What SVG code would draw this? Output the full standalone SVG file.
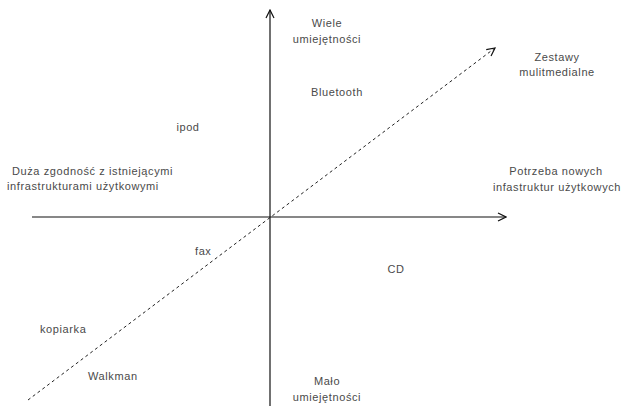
<svg xmlns="http://www.w3.org/2000/svg" width="627" height="406" viewBox="0 0 627 406">
<style>
  text { font-family: "Liberation Sans", Arial, sans-serif; font-size: 11px; letter-spacing: 0.6px; fill: #4a4a4a; }
  .c { text-anchor: middle; }
  .axis { stroke: #111; stroke-width: 1.2; fill: none; }
  .diag { stroke: #222; stroke-width: 1; stroke-dasharray: 3 3; fill: none; }
</style>
<defs>
  <marker id="arr" markerWidth="10" markerHeight="10" refX="9" refY="5" orient="auto" markerUnits="userSpaceOnUse">
    <path d="M1,1 L9,5 L1,9" fill="none" stroke="#111" stroke-width="1.2"/>
  </marker>
</defs>
<rect width="627" height="406" fill="#fff"/>
<g id="connectors">
  <line class="axis" x1="32" y1="217" x2="506" y2="217" marker-end="url(#arr)"/>
  <line class="axis" x1="270" y1="406" x2="270" y2="10" marker-end="url(#arr)"/>
  <line class="diag" x1="28" y1="400" x2="495" y2="48" marker-end="url(#arr)"/>
</g>
<g id="wiele"><text class="c" x="327" y="27">Wiele</text><text class="c" x="327" y="43">umiejętności</text></g>
<g id="zestawy"><text class="c" x="557" y="61">Zestawy</text><text class="c" x="557" y="76">mulitmedialne</text></g>
<g id="bluetooth"><text class="c" x="337" y="96">Bluetooth</text></g>
<g id="ipod"><text class="c" x="188" y="131">ipod</text></g>
<g id="duza"><text x="12" y="175">Duża zgodność z istniejącymi</text><text x="7" y="190">infrastrukturami użytkowymi</text></g>
<g id="potrzeba"><text class="c" x="556" y="175">Potrzeba nowych</text><text class="c" x="557" y="191">infastruktur użytkowych</text></g>
<g id="fax"><text x="195" y="255">fax</text></g>
<g id="cd"><text class="c" x="396" y="273">CD</text></g>
<g id="kopiarka"><text x="40" y="333">kopiarka</text></g>
<g id="walkman"><text x="88" y="380">Walkman</text></g>
<g id="malo"><text class="c" x="327" y="385">Mało</text><text class="c" x="327" y="401">umiejętności</text></g>
</svg>
